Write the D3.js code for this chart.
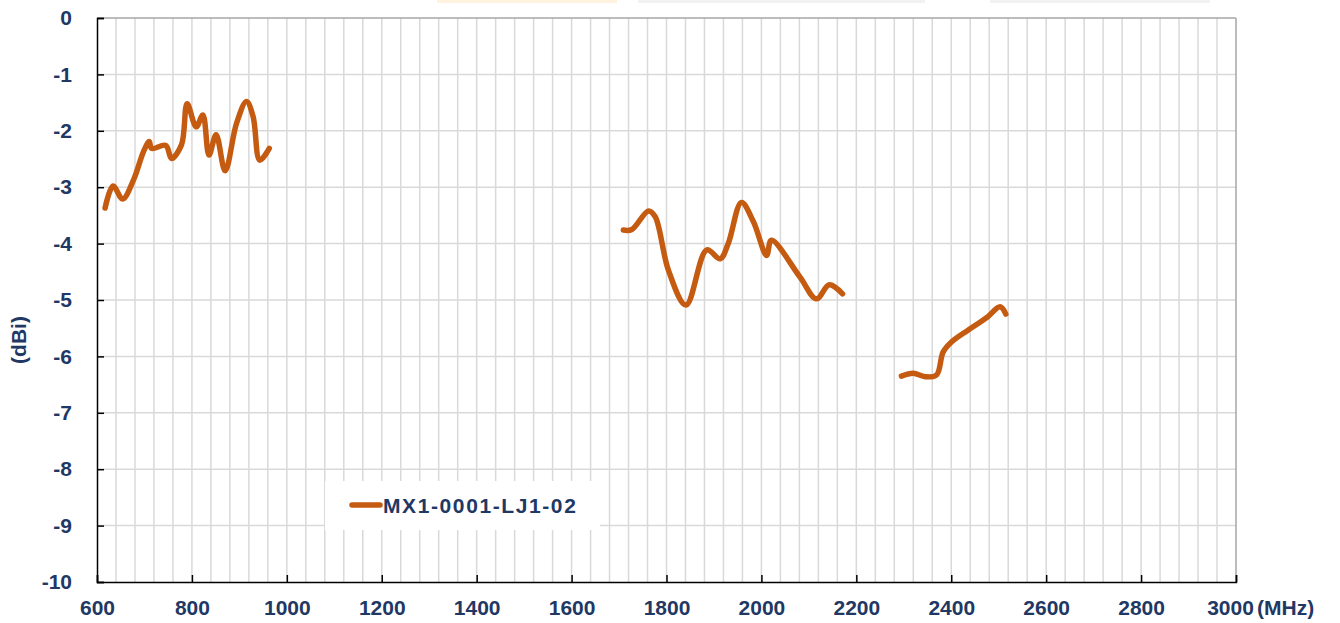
<!DOCTYPE html>
<html><head><meta charset="utf-8">
<script src="https://cdn.jsdelivr.net/npm/d3@7"></script>
<style>body{margin:0;background:#fff;}svg{display:block;font-family:"Liberation Sans",Arial,sans-serif;}</style>
</head><body><div id="chart"></div>
<script>
// Frequencies (MHz) and gains (dBi) for the three measured bands
const freqLow = [617,634,654,677,698,710,715,745,757,778,790,809,823,836,851,870,894,915,929,943,963];
const gainLow = [-3.37,-2.98,-3.21,-2.87,-2.37,-2.19,-2.31,-2.26,-2.49,-2.25,-1.52,-1.93,-1.72,-2.43,-2.07,-2.71,-1.87,-1.48,-1.75,-2.52,-2.31];
const freqMid = [1709,1727,1762,1776,1804,1841,1885,1913,1930,1958,1983,2011,2021,2081,2116,2143,2171];
const gainMid = [-3.76,-3.75,-3.42,-3.52,-4.47,-5.09,-4.11,-4.27,-4.0,-3.27,-3.61,-4.21,-3.94,-4.59,-4.98,-4.73,-4.89];
const freqHigh = [2295,2320,2345,2369,2383,2401,2436,2475,2503,2515];
const gainHigh = [-6.35,-6.30,-6.36,-6.33,-5.92,-5.74,-5.53,-5.31,-5.12,-5.25];
const xTicks = [600,800,1000,1200,1400,1600,1800,2000,2200,2400,2600,2800,3000];
const yTicks = [0,-1,-2,-3,-4,-5,-6,-7,-8,-9,-10];
const seriesName = "MX1-0001-LJ1-02";
const xUnit = "(MHz)";
const yUnit = "(dBi)";

const W = 1340, H = 623;
const m = {left:97, right:1236, top:18, bottom:582};
const textColor = "#1F3864", lineColor = "#C55A11";

const svg = d3.select("#chart").append("svg").attr("width",W).attr("height",H);

// faint header rectangles at very top
[[437,617,"#FFF2DE"],[638,925,"#F2F2F2"],[990,1210,"#F2F2F2"]].forEach(r=>{
  svg.append("rect").attr("x",r[0]).attr("y",0).attr("width",r[1]-r[0]).attr("height",3).attr("fill",r[2]);
});

const x = d3.scaleLinear().domain([600,3000]).range([m.left,m.right]);
const y = d3.scaleLinear().domain([-10,0]).range([m.bottom,m.top]);

// minor vertical grid every 40 MHz
const g = svg.append("g");
g.selectAll("line.vg").data(d3.range(640,3000,40)).join("line")
  .attr("x1",d=>x(d)).attr("x2",d=>x(d)).attr("y1",m.top).attr("y2",m.bottom)
  .attr("stroke","#D9D9D9").attr("stroke-width",1.5);
g.selectAll("line.hg").data(yTicks.filter(v=>v>-10&&v<0)).join("line")
  .attr("x1",m.left).attr("x2",m.right).attr("y1",d=>y(d)).attr("y2",d=>y(d))
  .attr("stroke","#D9D9D9").attr("stroke-width",1.5);

// top & right border
svg.append("line").attr("x1",m.left).attr("x2",m.right).attr("y1",m.top).attr("y2",m.top).attr("stroke","#A6A6A6").attr("stroke-width",1.5);
svg.append("line").attr("x1",m.right).attr("x2",m.right).attr("y1",m.top).attr("y2",m.bottom).attr("stroke","#A6A6A6").attr("stroke-width",1.5);

// axes
const fmt = d => String(d);
const xAxis = d3.axisBottom(x).tickValues(xTicks).tickSize(-7).tickFormat(fmt);
const yAxis = d3.axisLeft(y).tickValues(yTicks).tickSize(-7).tickFormat(fmt);
const gx = svg.append("g").attr("transform",`translate(0,${m.bottom})`).call(xAxis);
const gy = svg.append("g").attr("transform",`translate(${m.left},0)`).call(yAxis);
[gx,gy].forEach(a=>{
  a.select(".domain").attr("stroke","#000").attr("stroke-width",1.5);
  a.selectAll(".tick line").attr("stroke","#000").attr("stroke-width",1.5);
  a.selectAll(".tick text").attr("fill",textColor).attr("font-size",21).attr("font-weight","bold")
   .attr("font-family","'Liberation Sans',Arial,sans-serif");
});
gx.selectAll(".tick text").attr("dy","0.71em").attr("y",18)
  .attr("dx",d=>d===3000?-6:0);
gy.selectAll(".tick text").attr("x",-25);

svg.append("text").attr("x",1257).attr("y",615).attr("fill",textColor).attr("font-size",21).attr("font-weight","bold").text(xUnit);
svg.append("text").attr("transform","translate(26,340) rotate(-90)").attr("text-anchor","middle")
  .attr("fill",textColor).attr("font-size",21).attr("font-weight","bold").text(yUnit);

// legend box (hides grid)
svg.append("rect").attr("x",325).attr("y",481).attr("width",275).attr("height",49).attr("fill","#fff");

// lines
const line = d3.line().x(d=>x(d[0])).y(d=>y(d[1])).curve(d3.curveCatmullRom.alpha(0.5));
[[freqLow,gainLow],[freqMid,gainMid],[freqHigh,gainHigh]].forEach(([f,gv])=>{
  svg.append("path").datum(f.map((v,i)=>[v,gv[i]])).attr("d",line)
    .attr("fill","none").attr("stroke",lineColor).attr("stroke-width",5.5)
    .attr("stroke-linecap","round").attr("stroke-linejoin","round");
});

// legend
svg.append("line").attr("x1",352).attr("x2",380).attr("y1",505).attr("y2",505)
  .attr("stroke",lineColor).attr("stroke-width",5.5).attr("stroke-linecap","round");
svg.append("text").attr("x",383).attr("y",513).attr("fill",textColor).attr("font-size",21)
  .attr("font-weight","bold").attr("letter-spacing",1.6).text(seriesName);
</script></body></html>
